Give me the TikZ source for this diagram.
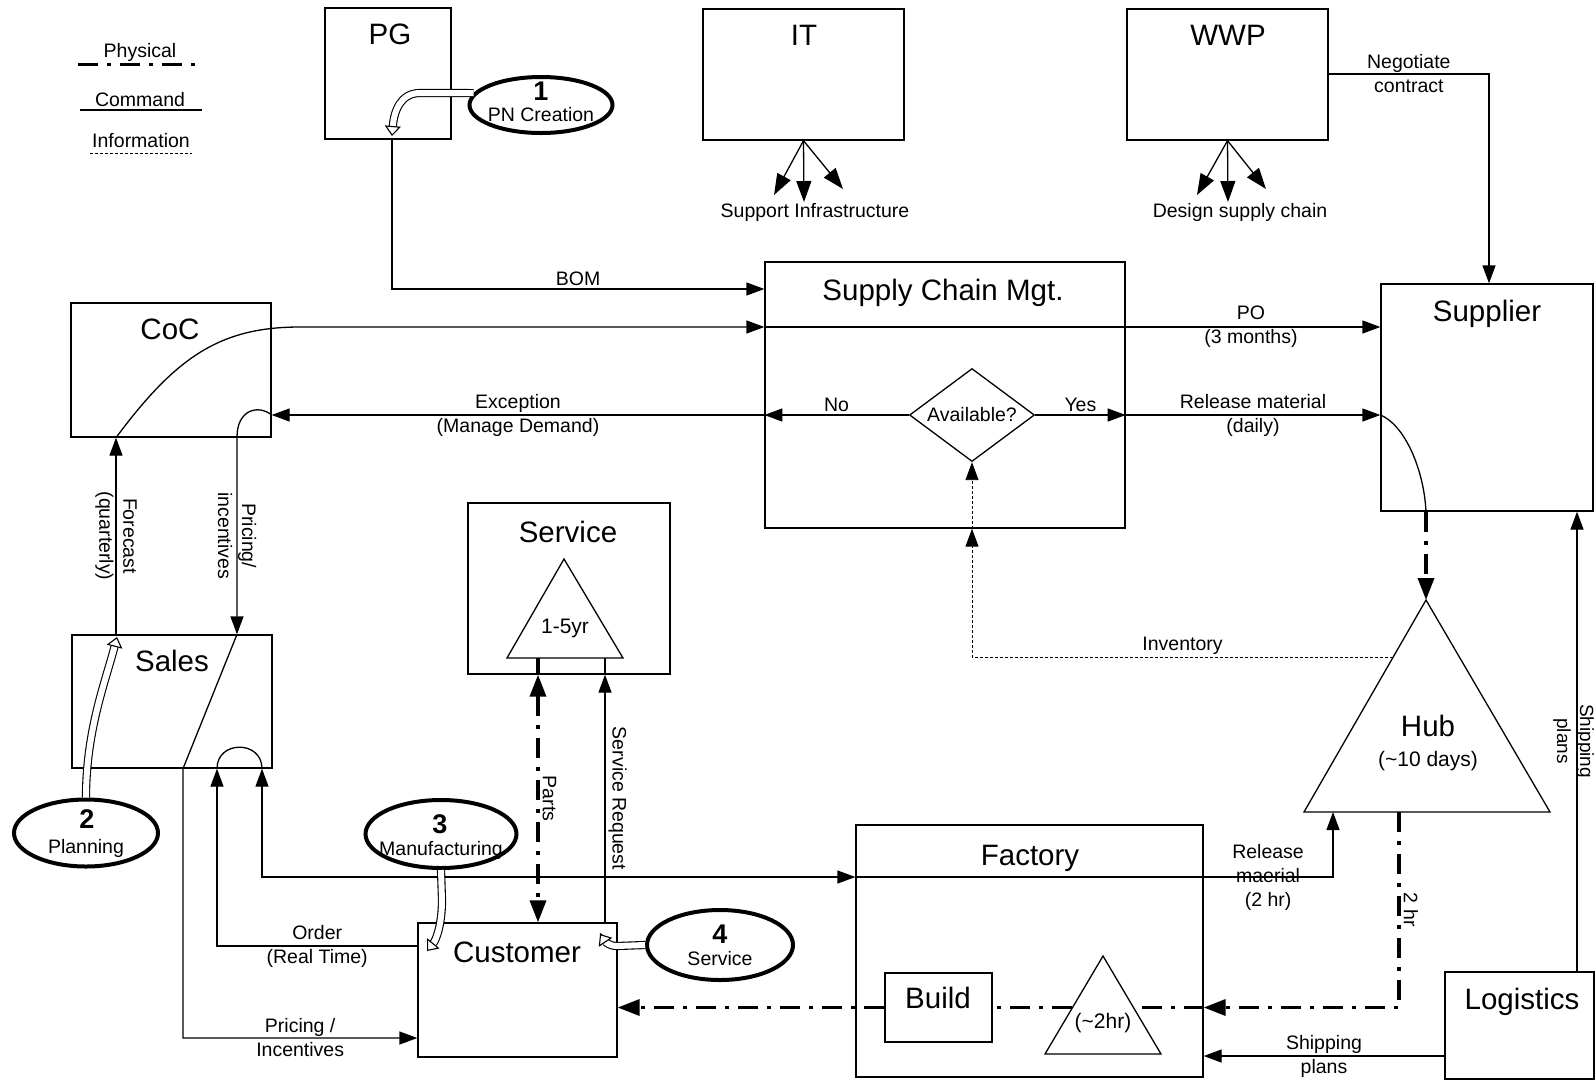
\documentclass[tikz,border=0pt]{standalone}
\usepackage{fontspec}
\setmainfont{Liberation Sans}
\usetikzlibrary{arrows.meta,shapes.geometric,calc}

\begin{document}
\begin{tikzpicture}[x=1pt,y=-1pt,
  box/.style={draw,line width=1.3pt,fill=white,inner sep=0pt},
  ttl/.style={font=\fontsize{29.5}{34}\selectfont,inner sep=0pt},
  lbl/.style={font=\fontsize{19.5}{24}\selectfont,align=center,inner sep=1pt},
  sublbl/.style={font=\fontsize{21}{25}\selectfont,inner sep=0pt},
  numlbl/.style={font=\bfseries\fontsize{27}{30}\selectfont,inner sep=0pt},
  cmd/.style={line width=1.3pt,>={Triangle[length=18pt,width=13pt]}},
  bigtip/.style={>={Triangle[length=21pt,width=15pt]}},
  phys/.style={line width=3.5pt,dash pattern=on 20pt off 9pt on 4pt off 9pt,>={Triangle[length=22pt,width=16pt]}},
  info/.style={line width=0.9pt,dash pattern=on 3pt off 2pt,>={Triangle[length=18pt,width=13pt]}},
  stage/.style={ellipse,draw,line width=4pt,fill=white,inner sep=0pt},
  trishape/.style={draw,line width=1.3pt,fill=white,line join=miter},
  hollow/.style={line width=1.1pt,double=white,double distance=6pt,-{Triangle[length=10pt,width=16pt,line width=1.1pt,fill=white]}},
]
\useasboundingbox (0,0) rectangle (1596,1080);
\fill[white] (0,0) rectangle (1596,1080);

% ---------- legend ----------
\node[lbl,anchor=base] (lgPhys) at (140,57) {Physical};
\coordinate (lgP1) at (78,64);  \coordinate (lgP2) at (200,64);
\draw[phys,line width=3pt] (lgP1) -- (lgP2);
\node[lbl,anchor=base] (lgCmd) at (140,106) {Command};
\coordinate (lgC1) at (80,110); \coordinate (lgC2) at (202,110);
\draw[cmd] (lgC1) -- (lgC2);
\node[lbl,anchor=base] (lgInfo) at (141,147) {Information};
\coordinate (lgI1) at (90,153); \coordinate (lgI2) at (192,153);
\draw[info] (lgI1) -- (lgI2);

% ---------- boxes ----------
\node[box,minimum width=126pt,minimum height=131pt] (pg)    at (388,73.5) {};
\node[box,minimum width=201pt,minimum height=131pt] (it)    at (803.5,74.5) {};
\node[box,minimum width=201pt,minimum height=131pt] (wwp)   at (1227.5,74.5) {};
\node[box,minimum width=200pt,minimum height=134pt] (coc)   at (171,370) {};
\node[box,minimum width=360pt,minimum height=266pt] (scm)   at (945,395) {};
\node[box,minimum width=212pt,minimum height=227pt] (sup)   at (1487,397.5) {};
\node[box,minimum width=202pt,minimum height=171pt] (serv)  at (569,588.5) {};
\node[box,minimum width=200pt,minimum height=133pt] (sales) at (172,701.5) {};
\node[box,minimum width=347pt,minimum height=252pt] (fac)   at (1029.5,951) {};
\node[box,minimum width=199pt,minimum height=134pt] (cust)  at (517.5,990) {};
\node[box,minimum width=107pt,minimum height=69pt]  (build) at (938.5,1007.5) {};
\node[box,minimum width=149pt,minimum height=107pt] (logi)  at (1519.5,1025.5) {};

\node[ttl,anchor=base] (pgT)    at (390,44.5)   {PG};
\node[ttl,anchor=base] (itT)    at (804,45.5)   {IT};
\node[ttl,anchor=base] (wwpT)   at (1228,45.5)  {WWP};
\node[ttl,anchor=base] (cocT)   at (170,339.5)  {CoC};
\node[ttl,anchor=base] (scmT)   at (943,300.5)  {Supply Chain Mgt.};
\node[ttl,anchor=base] (supT)   at (1487,321.5) {Supplier};
\node[ttl,anchor=base] (servT)  at (568,542.5)  {Service};
\node[ttl,anchor=base] (salesT) at (172,671.5)  {Sales};
\node[ttl,anchor=base] (facT)   at (1030,865.5) {Factory};
\node[ttl,anchor=base] (custT)  at (517,962.5)  {Customer};
\node[ttl,anchor=base] (buildT) at (938,1008.5) {Build};
\node[ttl,anchor=base] (logiT)  at (1522,1009.5){Logistics};

% ---------- decision ----------
\node[diamond,draw,line width=1.3pt,fill=white,aspect=1.34,minimum width=125pt,
      minimum height=93pt,inner sep=0pt,font=\fontsize{19.5}{24}\selectfont] (avail) at (972,415) {Available?};

% ---------- triangles (stock points) ----------
\coordinate (hubA) at (1426,600); \coordinate (hubL) at (1304,812); \coordinate (hubR) at (1550,812);
\draw[trishape] (hubA) -- (hubL) -- (hubR) -- cycle;
\node[ttl,anchor=base] (hubT) at (1428,736.5) {Hub};
\node[sublbl,anchor=base] (hubS) at (1428,766.5) {(\textasciitilde10 days)};
\coordinate (hubIn)  at (1333,812);
\coordinate (hubOut) at (1399,812);
\coordinate (hubInv) at (1393,657);

\coordinate (stA) at (564,559); \coordinate (stL) at (507,658); \coordinate (stR) at (623,658);
\draw[trishape] (stA) -- (stL) -- (stR) -- cycle;
\node[sublbl,anchor=base] (stT) at (565,633) {1-5yr};
\coordinate (stParts) at (538,658);
\coordinate (stReq)   at (605,658);

\coordinate (ftA) at (1103,956); \coordinate (ftL) at (1045,1054); \coordinate (ftR) at (1161,1054);
\draw[trishape] (ftA) -- (ftL) -- (ftR) -- cycle;
\node[sublbl,anchor=base] (ftT) at (1103,1028) {(\textasciitilde2hr)};
\coordinate (ftcL) at (1072,1007.5);
\coordinate (ftcR) at (1134,1007.5);

% ---------- stage ellipses ----------
\node[stage,minimum width=143pt,minimum height=56pt] (e1) at (541,105) {};
\node[stage,minimum width=144pt,minimum height=67pt] (e2) at (86,833) {};
\node[stage,minimum width=151pt,minimum height=68pt] (e3) at (441,834) {};
\node[stage,minimum width=146pt,minimum height=70pt] (e4) at (720,945) {};
\node[numlbl,anchor=base] (n1) at (541,100) {1};
\node[lbl,anchor=base]    (t1) at (541,121) {PN Creation};
\node[numlbl,anchor=base] (n2) at (87,828)  {2};
\node[lbl,anchor=base]    (t2) at (86,853)  {Planning};
\node[numlbl,anchor=base] (n3) at (440,833) {3};
\node[lbl,anchor=base]    (t3) at (441,855) {Manufacturing};
\node[numlbl,anchor=base] (n4) at (720,943) {4};
\node[lbl,anchor=base]    (t4) at (720,965) {Service};

% ---------- IT / WWP fans ----------
\coordinate (itL) at (774,195); \coordinate (itM) at (804,202); \coordinate (itR) at (843,189);
\draw[cmd,bigtip,->] (it.south) -- (itL);
\draw[cmd,bigtip,->] (it.south) -- (itM);
\draw[cmd,bigtip,->] (it.south) -- (itR);
\node[lbl,anchor=base] (itLbl) at (815,217) {Support Infrastructure};
\coordinate (wwL) at (1197,195); \coordinate (wwM) at (1228,202); \coordinate (wwR) at (1266,189);
\draw[cmd,bigtip,->] (wwp.south) -- (wwL);
\draw[cmd,bigtip,->] (wwp.south) -- (wwM);
\draw[cmd,bigtip,->] (wwp.south) -- (wwR);
\node[lbl,anchor=base] (wwpLbl) at (1240,217) {Design supply chain};

% ---------- command flows ----------
\draw[cmd,->] (pg.south -| 392,0) |- (scm.west |- 0,289) node[lbl,pos=0.75,above=2pt] (bomT) {BOM};
\draw[cmd,->] (coc.south -| 116,0) .. controls (176,357) and (220,327) .. (300,327) -- (scm.west |- 0,327);
\draw[cmd,->] (scm.west |- 0,327) -- (sup.west |- 0,327) node[lbl,pos=0.79] (poT) {PO\\(3 months)};

\draw[cmd,->] (avail.west) -- (scm.west |- avail.west) node[lbl,midway,above=2pt] (noT) {No};
\draw[cmd,->] (scm.west |- avail.west) -- (coc.east |- avail.west) node[lbl,midway] (excT) {Exception\\(Manage Demand)};
\draw[cmd,->] (avail.east) -- (scm.east |- avail.east) node[lbl,midway,above=2pt] (yesT) {Yes};
\draw[cmd,->] (scm.east |- avail.east) -- (sup.west |- avail.east) node[lbl,midway] (relT) {Release material\\(daily)};

\draw[cmd] (sup.west |- avail.east) .. controls (1405,425) and (1424,470) .. (sup.south -| 1426,0);
\draw[phys,->] (sup.south -| 1426,0) -- (hubA);

\draw[cmd,->] (wwp.east |- 0,74) -| (sup.north -| 1489,0) node[lbl,pos=0.25] (negT) {Negotiate\\contract};

\draw[cmd,->] (sales.north -| 116,0) -- (coc.south -| 116,0) node[lbl,midway,rotate=-90] (fcT) {Forecast\\(quarterly)};
\draw[cmd,->] (coc.east |- avail.west) .. controls (258,404) and (237,410) .. (237,437) -- (sales.north -| 237,0)
  node[lbl,midway,rotate=-90] (pinT) {Pricing/\\incentives};
\draw[cmd,->] (sales.north -| 237,0) -- (sales.south -| 183,0) |- (cust.west |- 0,1038) node[lbl,pos=0.75] (prT) {Pricing /\\Incentives};
\draw[cmd,->] (cust.west |- 0,946) -| (sales.south -| 217,0) node[lbl,pos=0.25] (ordT) {Order\\(Real Time)};
\draw[cmd] (sales.south -| 217,0) .. controls (217,740) and (262,740) .. (sales.south -| 262,0);
\draw[cmd,<->] (sales.south -| 262,0) |- (fac.west |- 0,877);
\draw[cmd,->] (fac.west |- 0,877) -| (hubIn) node[lbl,pos=0.432] (rel2T) {Release\\maerial\\(2 hr)};

\draw[cmd] (stReq) -- (serv.south -| stReq);
\draw[cmd,<-] (serv.south -| stReq) -- (cust.north -| stReq) node[lbl,midway,rotate=-90,anchor=south,inner sep=3pt] (sreqT) {Service Request};

\draw[cmd,->] (logi.north -| 1577,0) -- (sup.south -| 1577,0);
\node[lbl,rotate=-90,inner sep=0pt,font=\fontsize{19}{23}\selectfont] (shipVT) at (1573.5,741) {Shipping\\plans};
\draw[cmd,->] (logi.west |- 0,1056) -- (fac.east |- 0,1056) node[lbl,midway] (shipHT) {Shipping\\plans};

% ---------- information flow ----------
\draw[info,->] (hubInv) -| (scm.south -| avail.south) node[lbl,pos=0.25,above=1pt] (invT) {Inventory};
\draw[info,->] (scm.south -| avail.south) -- (avail.south);

% ---------- physical flows ----------
\draw[phys,->] (hubOut) |- (fac.east |- build.east) node[lbl,pos=0.25,rotate=-90,anchor=south,inner sep=3pt] (twoT) {2 hr};
\draw[phys] (fac.east |- build.east) -- (ftcR);
\draw[phys] (ftcL) -- (build.east);
\draw[phys,->] (build.west) -- (cust.east |- build.west);
\draw[phys] (stParts) -- (serv.south -| stParts);
\draw[phys,<->] (serv.south -| stParts) -- (cust.north -| stParts) node[lbl,midway,rotate=-90,anchor=south,inner sep=3pt] (partsT) {Parts};

% ---------- process arrows from the stages ----------
\coordinate (h1) at (392,136);
\coordinate (h2) at (117,637);
\coordinate (h3) at (427,951);
\coordinate (h4) at (600,934);
\draw[hollow] (e1.170) -- (420,93) .. controls (400,93) and (394,112) .. (h1);
\draw[hollow] (e2.north) .. controls (86,730) and (106,680) .. (h2);
\draw[hollow] (e3.south) -- (442,900) .. controls (442,925) and (436,940) .. (h3);
\draw[hollow] (e4.west) -- (617,946) .. controls (608,946) and (604,940) .. (h4);
\end{tikzpicture}
\end{document}
